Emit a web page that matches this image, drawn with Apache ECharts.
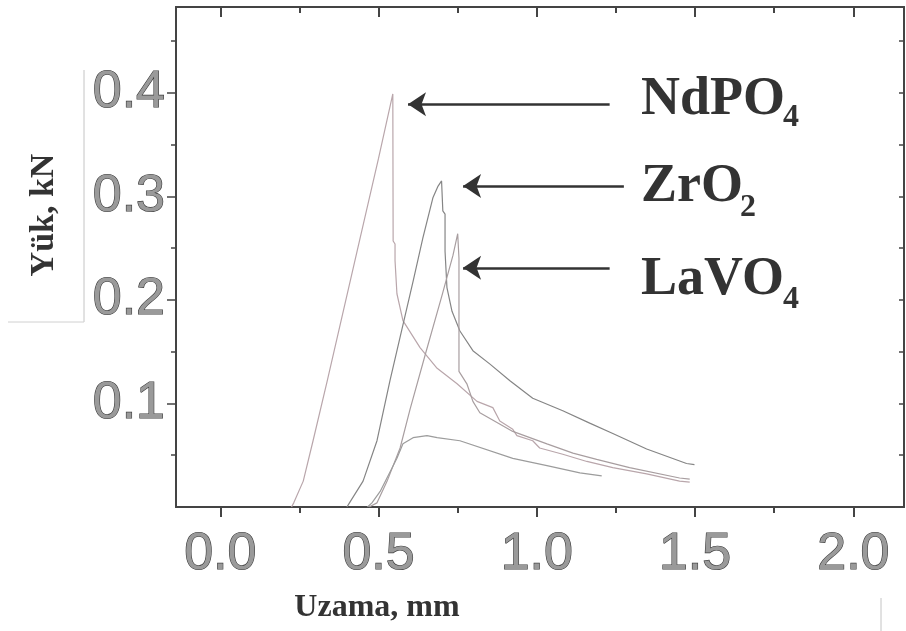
<!DOCTYPE html>
<html>
<head>
<meta charset="utf-8">
<script src="https://cdn.jsdelivr.net/npm/echarts@6/dist/echarts.min.js"></script>
<style>
html, body { margin: 0; padding: 0; background: #fff; }
#chart { width: 906px; height: 631px; }
</style>
</head>
<body>
<div id="chart"></div>
<script>
// yük - uzama eğrileri, [uzama mm, yük kN]
var ndpo4 = [[0.225, 0], [0.232, 0.004], [0.262, 0.025], [0.293, 0.064], [0.338, 0.122], [0.432, 0.247], [0.500, 0.337], [0.545, 0.399],
  [0.546, 0.257], [0.552, 0.254], [0.552, 0.238], [0.558, 0.206], [0.577, 0.180], [0.631, 0.154], [0.685, 0.134], [0.748, 0.119], [0.811, 0.102],
  [0.861, 0.096], [0.883, 0.083], [0.924, 0.075], [0.937, 0.069], [0.987, 0.064], [1.009, 0.057], [1.082, 0.051], [1.158, 0.044],
  [1.240, 0.038], [1.347, 0.032], [1.451, 0.025], [1.483, 0.024]];
var zro2 = [[0.400, 0], [0.408, 0.004], [0.451, 0.025], [0.495, 0.064], [0.536, 0.122], [0.609, 0.218], [0.640, 0.260], [0.672, 0.299],
  [0.688, 0.310], [0.699, 0.315], [0.703, 0.286], [0.710, 0.283], [0.710, 0.247], [0.716, 0.212], [0.732, 0.189], [0.757, 0.170],
  [0.798, 0.151], [0.852, 0.138], [0.915, 0.122], [0.987, 0.105], [1.082, 0.093], [1.167, 0.081], [1.240, 0.071], [1.347, 0.056],
  [1.473, 0.042], [1.498, 0.041]];
var lavo4 = [[0.470, 0], [0.495, 0.004], [0.527, 0.025], [0.568, 0.057], [0.600, 0.095], [0.650, 0.150], [0.700, 0.204], [0.735, 0.243],
  [0.750, 0.264], [0.754, 0.240], [0.754, 0.131], [0.779, 0.119], [0.798, 0.102], [0.820, 0.091], [0.924, 0.073], [1.032, 0.061],
  [1.114, 0.052], [1.189, 0.046], [1.293, 0.038], [1.451, 0.028], [1.483, 0.027]];
var dorduncu = [[0.465, 0], [0.479, 0.004], [0.505, 0.015], [0.558, 0.047], [0.577, 0.061], [0.609, 0.067], [0.653, 0.069], [0.685, 0.067],
  [0.757, 0.064], [0.924, 0.047], [1.032, 0.040], [1.136, 0.033], [1.205, 0.030]];

var xMajor = [0, 0.5, 1.0, 1.5, 2.0];
var xMinor = [0.25, 0.75, 1.25, 1.75];
var yMajor = [0.1, 0.2, 0.3, 0.4];
var yMinor = [0.05, 0.15, 0.25, 0.35, 0.45];

// oklar: [kuyruk x, uç x, y]
var oklar = [[1.23, 0.593, 0.389], [1.275, 0.767, 0.310], [1.23, 0.767, 0.231]];

var chart = echarts.init(document.getElementById('chart'));

var eksenRenk = '#444';
var etiket = {
  fontFamily: 'Liberation Sans', fontSize: 52, color: '#9a9a9a',
  textBorderColor: '#3c3c3c', textBorderWidth: 1.2,
  formatter: function (v) { return v.toFixed(1); }
};

function xEksen(pos, ticks, len, inside, label, line) {
  return {
    type: 'value', min: -0.14, max: 2.16, position: pos,
    axisLine: { show: line, onZero: false, lineStyle: { color: eksenRenk, width: 2 } },
    axisTick: { show: true, inside: inside, length: len, customValues: ticks, lineStyle: { color: eksenRenk, width: 2 } },
    axisLabel: label ? Object.assign({ customValues: ticks, margin: 22 }, etiket) : { show: false },
    splitLine: { show: false }
  };
}
function yEksen(pos, ticks, len, inside, label, line) {
  return {
    type: 'value', min: 0, max: 0.483, position: pos,
    axisLine: { show: line, onZero: false, lineStyle: { color: eksenRenk, width: 2 } },
    axisTick: { show: true, inside: inside, length: len, customValues: ticks, lineStyle: { color: eksenRenk, width: 1.5 } },
    axisLabel: label ? Object.assign({ customValues: ticks, margin: 11 }, etiket) : { show: false },
    splitLine: { show: false }
  };
}

function ok(i) {
  return {
    silent: true, symbol: ['none', 'arrow'], symbolSize: 18,
    label: { show: false },
    lineStyle: { color: '#333', width: 2.5, type: 'solid' },
    data: [[{ coord: [oklar[i][0], oklar[i][2]] }, { coord: [oklar[i][1], oklar[i][2]] }]]
  };
}

function seri(ad, veri, renk, i) {
  var s = {
    name: ad, type: 'line', data: veri, showSymbol: false, silent: true,
    lineStyle: { color: renk, width: 1.2 }
  };
  if (i !== undefined) s.markLine = ok(i);
  return s;
}

var yazi = 'bold 54px "Liberation Serif"';
var alt = 'bold 32px "Liberation Serif"';
function metin(t, x, y, font, align) {
  return { type: 'text', x: x, y: y, style: { text: t, font: font, fill: '#333', textAlign: align || 'left', textVerticalAlign: 'middle' } };
}

chart.setOption({
  animation: false,
  grid: { left: 176, top: 7, width: 728, height: 500, show: true, borderColor: '#555', borderWidth: 1.5 },
  xAxis: [
    xEksen('bottom', xMajor, 10, false, true, true),
    xEksen('bottom', xMinor, 6, false, false, false),
    xEksen('top', xMajor, 10, true, false, true),
    xEksen('top', xMinor, 6, true, false, false)
  ],
  yAxis: [
    yEksen('left', yMajor, 9, false, true, true),
    yEksen('left', yMinor, 5, false, false, false),
    yEksen('right', yMajor.concat(yMinor), 5, true, false, true)
  ],
  series: [
    seri('NdPO4', ndpo4, '#b9a6ab', 0),
    seri('ZrO2', zro2, '#858585', 1),
    seri('LaVO4', lavo4, '#a89ea0', 2),
    seri('', dorduncu, '#9c9c9c')
  ],
  graphic: [
    metin('NdPO', 641, 100, yazi), metin('4', 783, 118, alt),
    metin('ZrO', 641, 187, yazi), metin('2', 740, 208, alt),
    metin('LaVO', 641, 280, yazi), metin('4', 783, 300, alt),
    { type: 'text', x: 44, y: 215, rotation: Math.PI / 2,
      style: { text: 'Yük, kN', font: 'bold 34px "Liberation Serif"', fill: '#333', textAlign: 'center', textVerticalAlign: 'middle' } },
    metin('Uzama, mm', 377, 608, 'bold 32px "Liberation Serif"', 'center'),
    { type: 'line', shape: { x1: 84, y1: 70, x2: 84, y2: 322 }, style: { stroke: '#c4c4c4', lineWidth: 1 } },
    { type: 'line', shape: { x1: 8, y1: 322, x2: 84, y2: 322 }, style: { stroke: '#d0d0d0', lineWidth: 1 } },
    { type: 'line', shape: { x1: 881, y1: 598, x2: 881, y2: 631 }, style: { stroke: '#c4c4c4', lineWidth: 1 } }
  ]
});
</script>
</body>
</html>
